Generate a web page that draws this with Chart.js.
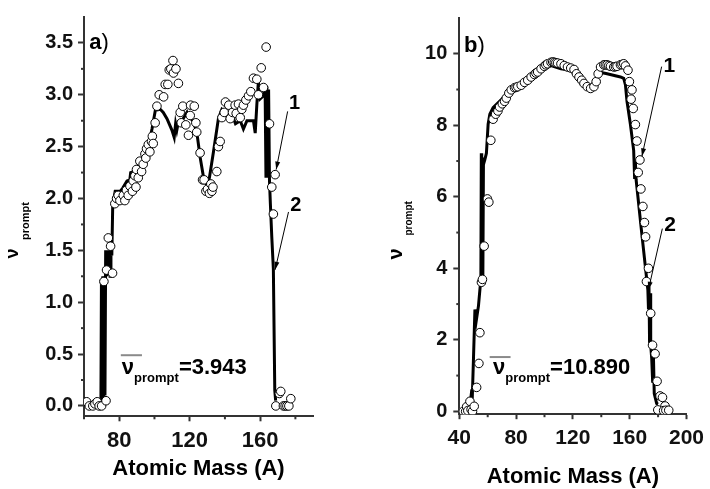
<!DOCTYPE html>
<html>
<head>
<meta charset="utf-8">
<script src="https://cdn.jsdelivr.net/npm/chart.js@4.4.1/dist/chart.umd.min.js"></script>
<style>
  html, body { margin: 0; padding: 0; background: #fff; }
  #wrap { position: relative; width: 710px; height: 489px; }
  .panel { position: absolute; top: 0; width: 355px; height: 489px; }
  #panelA { left: 0; }
  #panelB { left: 355px; }
</style>
</head>
<body>
<div id="wrap">
  <div class="panel" id="panelA"><canvas id="chartA" width="355" height="489"></canvas></div>
  <div class="panel" id="panelB"><canvas id="chartB" width="355" height="489"></canvas></div>
</div>
<script>
  const FONT = '"Liberation Sans", Arial, Helvetica, sans-serif';
  const AXIS = '#333';

  // --- Panel a: open circles + calculated curve ---
  const massA = [61.5, 63, 65, 66.2, 67.5, 68.6, 70, 72.5,
    71.3, 72.8, 73.8, 75.1, 76.2,
    77.5, 78.5, 79.4, 80.4, 82.3, 83.2, 84.1, 85.1, 86.1, 87.5,
    87.9, 88.9, 89.5, 89.8, 90.8, 91.7, 92.7, 93.6, 94.6, 95.1,
    95.5, 96.5, 97.4, 98.3, 98.8, 99.3, 100.4, 101.4, 102.7, 105.2,
    106.1, 107.6, 108.4, 109.3, 110.5, 110.8, 112.2, 113.6,
    114.6, 115.2, 116.1, 117.8, 119.3, 120.3, 120.5, 122.6, 123.5, 124,
    125.9, 127.3, 128.2, 129.2, 130.1, 131.2, 132, 132.6, 133.2, 135.4,
    136.3, 137.3, 138.3, 139.6, 140.3, 142.2, 143, 144.3, 145.8, 146.4,
    147.7, 148.7, 149.6, 150.5, 151.9, 153.4, 154.7, 156.2, 158.1, 159,
    160.6, 161.9, 163.4, 165.3, 166.6, 167.5, 168.5,
    168.9, 170.9, 171.7, 173.2, 174.2, 175.2, 176.3, 177.4];
  const nuA = [0.04, 0, 0, 0.02, 0.04, 0, 0, 0.05,
    1.2, 1.31, 1.62, 1.54, 1.28,
    1.95, 2.0, 2.03, 1.98, 2.03, 1.98, 2.08, 2.03, 2.12, 2.07,
    2.17, 2.22, 2.11, 2.28, 2.20, 2.36, 2.26, 2.33, 2.43, 2.39,
    2.48, 2.52, 2.45, 2.55, 2.60, 2.53, 2.73, 2.89, 3.0, 2.98,
    3.10, 3.10, 3.24, 3.25, 3.33, 3.21, 3.25, 3.11,
    2.83, 2.73, 2.89, 2.71, 2.61, 2.80, 2.90, 2.89, 2.73, 2.64,
    2.44, 2.18, 2.18, 2.07, 2.09, 2.05, 2.14, 2.07, 2.11, 2.26,
    2.50, 2.55, 2.78, 2.83, 2.93, 2.90, 2.77, 2.83, 2.90, 2.82,
    2.91, 2.78, 2.86, 2.90, 2.95, 2.99, 3.03, 3.16, 3.15, 3.0,
    3.26, 3.07, 3.46, 2.72, 2.11, 1.85, 2.23,
    0, 0.12, 0.14, 0, 0, 0, 0, 0.07];
  const massALine = [62, 66, 69.6, 69.9, 70.3, 70.7, 71.1, 71.5, 71.9, 72.3,
    72.8, 73.3, 73.8, 74.3, 74.8, 75.3, 75.8, 76.3, 77.7, 80.6,
    82, 84.4, 86, 86.5, 88.1, 90, 92, 94, 95.7, 97,
    98.6, 100.5, 103.3, 105, 107.1, 109.9, 111.2, 112, 112.7, 113.6,
    115.6, 118.4, 119.3, 120.7, 122.2, 124.1, 126, 127.9, 129.8, 131.2,
    133.5, 136.3, 138.3, 141.1, 143, 144.9, 146, 148.7, 150.5, 152.5,
    156.2, 157.2, 158.1, 159, 160, 161.9, 162.8, 163.3, 163.8, 164.3,
    164.8, 165.3, 165.8, 166.6, 167.5, 168.3, 168.8];
  const nuALine = [0, 0, 0.02, 1.22, 0.05, 1.25, 0.05, 1.25, 0.1, 1.5,
    1.25, 1.5, 1.3, 1.5, 1.25, 1.5, 1.45, 1.93, 2.07, 2.07,
    2.1, 2.17, 2.18, 2.25, 2.26, 2.3, 2.36, 2.42, 2.48, 2.55,
    2.67, 2.85, 2.86, 2.83, 2.77, 2.66, 2.59, 2.72, 2.66, 2.74,
    2.75, 2.83, 2.78, 2.77, 2.74, 2.63, 2.39, 2.20, 2.12, 2.20,
    2.45, 2.77, 2.86, 2.82, 2.75, 2.77, 2.72, 2.75, 2.67, 2.75,
    2.75, 2.63, 2.90, 3.13, 2.96, 2.99, 3.08, 2.2, 3.08, 2.2,
    3.05, 2.17, 1.95, 1.63, 1.32, 0.15, 0.05];
  const xTicksA = [80, 120, 160];
  const xMinorA = [60, 100, 140, 180];
  const yTicksA = [0, 0.5, 1, 1.5, 2, 2.5, 3, 3.5];
  const yMinorA = [0.25, 0.75, 1.25, 1.75, 2.25, 2.75, 3.25];

  // --- Panel b ---
  const massB = [42.8, 44.5, 45.2, 46.0, 47.5, 48.3, 49.3, 50.5,
    52.2, 53.8, 54.5, 55.6, 56.3, 57.5, 59.8, 60.8,
    62.2, 63.8, 65.6, 67.2, 68.4, 70.3, 71.9, 73.1, 74.9, 76.6,
    78.9, 80.0, 81.2, 83.6, 85.9, 88.2, 90.6, 92.9, 94.0, 95.2,
    97.6, 99.9, 101.0, 102.2, 104.6, 105.8, 106.9, 108.0, 109.2, 111.6,
    113.9, 116.2, 118.5, 120.8, 122.5, 124.3, 126.2, 127.8, 130.1, 132.5,
    134.8, 136.4, 137.8, 139.5, 141.8, 142.9, 144.1, 145.3, 146.5, 148.8,
    150.0, 151.1, 153.5, 154.6, 155.8, 157.0, 158.8,
    159.8, 161.6, 161.0, 162.5, 164.0, 165.1, 167.2, 166.0, 167.9, 169.3,
    170.4, 171.2, 173.2, 171.8, 174.8, 176.1, 177.9, 179.3, 181.4, 183.1,
    179.8, 184.9, 183.9, 185.5, 187.5];
  const nuB = [0, 0, 0.13, 0.02, 0.28, 0.05, 0, 0.14,
    0.67, 1.34, 2.20, 3.61, 3.69, 4.62, 5.94, 5.85,
    7.58, 8.17, 8.31, 8.40, 8.51, 8.60, 8.67, 8.76, 8.90, 8.99,
    9.05, 9.06, 9.08, 9.12, 9.20, 9.26, 9.35, 9.42, 9.46, 9.49,
    9.58, 9.65, 9.69, 9.72, 9.76, 9.77, 9.76, 9.75, 9.74, 9.72,
    9.67, 9.63, 9.60, 9.56, 9.44, 9.35, 9.26, 9.17, 9.08, 9.03,
    9.08, 9.22, 9.44, 9.63, 9.69, 9.69, 9.69, 9.67, 9.65, 9.63,
    9.64, 9.65, 9.69, 9.70, 9.72, 9.66, 9.54,
    9.22, 8.99, 8.73, 8.47, 8.02, 7.56, 7.03, 6.68, 6.22, 5.73,
    5.28, 4.88, 4.0, 3.63, 2.74, 1.85, 1.61, 0.84, 0.43, 0.39,
    0.04, 0.15, 0.02, 0.03, 0.03];
  const massBLine = [43, 46, 47.5, 48.5, 49.2, 50, 51, 52, 53.5, 54.5,
    55.2, 55.5, 55.8, 56.2, 56.6, 57, 58, 59.1, 60.3, 61.5,
    63.8, 67.3, 71.9, 76.6, 81.2, 88.2, 97.6, 104.6, 111.6, 118.5,
    124.3, 130.1, 134.8, 138.3, 144.1, 153.5, 155.8, 157, 158.1, 160.5,
    162.8, 163.5, 164, 164.5, 168.6, 172.8, 173.2, 173.6, 174, 174.4,
    174.8, 175.5, 176.2, 176.7, 177.3, 177.9, 179, 180];
  const nuBLine = [0, 0.02, 0.15, 0.5, 0.45, 1.5, 2.85, 2.55, 2.95, 3.4,
    3.7, 7.22, 3.7, 7.1, 3.8, 6.9, 7.04, 7.22, 8.03, 8.31,
    8.49, 8.63, 8.81, 9.03, 9.08, 9.26, 9.54, 9.67, 9.58, 9.54,
    9.31, 9.08, 9.17, 9.49, 9.44, 9.35, 9.31, 9.13, 8.67, 8.03,
    7.3, 6.5, 7.0, 6.49, 4.94, 3.4, 2.9, 3.5, 1.9, 3.3,
    1.85, 1.49, 0.8, 1.6, 0.5, 0.4, 0.22, 0.2];
  const xTicksB = [40, 80, 120, 160, 200];
  const xMinorB = [60, 100, 140, 180];
  const yTicksB = [0, 2, 4, 6, 8, 10];
  const yMinorB = [1, 3, 5, 7, 9];

  const toPts = (xs, ys) => xs.map((v, i) => ({ x: v, y: ys[i] }));

  function arrow(ctx, x1, y1, x2, y2) {
    ctx.lineWidth = 1;
    ctx.beginPath(); ctx.moveTo(x1, y1); ctx.lineTo(x2, y2); ctx.stroke();
    const a = Math.atan2(y2 - y1, x2 - x1), L = 8, W = 2.5;
    ctx.beginPath();
    ctx.moveTo(x2, y2);
    ctx.lineTo(x2 - L * Math.cos(a) + W * Math.sin(a), y2 - L * Math.sin(a) - W * Math.cos(a));
    ctx.lineTo(x2 - L * Math.cos(a) - W * Math.sin(a), y2 - L * Math.sin(a) + W * Math.cos(a));
    ctx.closePath(); ctx.fill();
  }

  // minor ticks, titles and the text/arrow annotations
  const decor = {
    id: 'decor',
    afterDraw(chart, args, o) {
      const { ctx, chartArea: area, scales: { x, y } } = chart;
      const px = v => x.getPixelForValue(v), py = v => y.getPixelForValue(v);
      ctx.save();
      ctx.strokeStyle = AXIS; ctx.lineWidth = 2;
      o.xMinor.forEach(v => {
        ctx.beginPath(); ctx.moveTo(px(v), area.bottom); ctx.lineTo(px(v), area.bottom + 3); ctx.stroke();
      });
      o.yMinor.forEach(v => {
        ctx.beginPath(); ctx.moveTo(area.left, py(v)); ctx.lineTo(area.left - 3, py(v)); ctx.stroke();
      });

      ctx.fillStyle = '#000'; ctx.strokeStyle = '#000';
      ctx.textBaseline = 'alphabetic';

      // panel letter
      ctx.textAlign = 'left';
      ctx.font = `bold 22px ${FONT}`;
      const lx = px(o.letterAt[0]), ly = py(o.letterAt[1]);
      ctx.fillText(o.letter, lx, ly);
      const lw = ctx.measureText(o.letter).width;
      ctx.font = `22px ${FONT}`;
      ctx.fillText(')', lx + lw, ly);

      // numbered curves with arrows
      ctx.textAlign = 'center';
      ctx.font = `bold ${o.markSize}px ${FONT}`;
      o.marks.forEach(m => {
        ctx.fillText(m.text, px(m.at[0]), py(m.at[1]));
        arrow(ctx, px(m.from[0]), py(m.from[1]), px(m.to[0]), py(m.to[1]));
      });

      // mean value with overline
      ctx.textAlign = 'left';
      let mx = px(o.mean.at[0]);
      const my = py(o.mean.at[1]);
      ctx.font = `bold 22px ${FONT}`;
      ctx.fillText('ν', mx, my);
      mx += ctx.measureText('ν').width;
      ctx.font = `bold 13px ${FONT}`;
      ctx.fillText('prompt', mx, my + 8);
      mx += ctx.measureText('prompt').width;
      ctx.font = `bold 22px ${FONT}`;
      ctx.fillText(o.mean.text, mx, my);
      ctx.strokeStyle = '#8a8a8a'; ctx.lineWidth = 2;
      ctx.beginPath();
      ctx.moveTo(px(o.mean.bar[0]), py(o.mean.bar[2]));
      ctx.lineTo(px(o.mean.bar[1]), py(o.mean.bar[2]));
      ctx.stroke();

      // y title, rotated
      ctx.save();
      ctx.translate(area.left + o.yTitle.dx, o.yTitle.y);
      ctx.rotate(-Math.PI / 2);
      ctx.font = `bold ${o.yTitle.nuSize}px ${FONT}`;
      ctx.fillText('ν', 0, 0);
      ctx.font = `bold ${o.yTitle.subSize}px ${FONT}`;
      ctx.fillText('prompt', o.yTitle.subDx, o.yTitle.subDy);
      ctx.restore();

      // x title
      ctx.textAlign = 'center';
      ctx.font = `bold 22px ${FONT}`;
      ctx.fillText('Atomic Mass (A)', (area.left + area.right) / 2, o.xTitleY);
      ctx.restore();
    }
  };

  function makeChart(id, c) {
    return new Chart(document.getElementById(id), {
      type: 'scatter',
      data: {
        datasets: [
          {
            data: toPts(c.mass, c.nu),
            pointStyle: 'circle', pointRadius: 4.3,
            pointBackgroundColor: '#fff', pointBorderColor: '#000', pointBorderWidth: 1
          },
          {
            data: toPts(c.massLine, c.nuLine),
            showLine: true, pointRadius: 0,
            borderColor: '#000', borderWidth: 3, tension: 0
          }
        ]
      },
      options: {
        responsive: false,
        animation: false,
        layout: { padding: { left: 0, top: c.area.top, right: 355 - c.area.right, bottom: 0 } },
        plugins: {
          legend: { display: false },
          tooltip: { enabled: false },
          decor: c.decor
        },
        scales: {
          x: {
            type: 'linear', min: c.xMin, max: c.xMax,
            afterBuildTicks: s => { s.ticks = c.xTicks.map(v => ({ value: v })); },
            afterFit: s => { s.height = 489 - c.area.bottom; },
            border: { display: true, color: AXIS, width: 2 },
            grid: { drawOnChartArea: false, drawTicks: true, tickLength: 5, tickWidth: 2, tickColor: AXIS },
            ticks: { color: '#111', padding: c.xPad, maxRotation: 0, font: { family: FONT, size: c.xFont, weight: 'bold' } }
          },
          y: {
            type: 'linear', min: c.yMin, max: c.yMax,
            afterBuildTicks: s => { s.ticks = c.yTicks.map(v => ({ value: v })); },
            afterFit: s => { s.width = c.area.left; },
            border: { display: true, color: AXIS, width: 2 },
            grid: { drawOnChartArea: false, drawTicks: true, tickLength: 6, tickWidth: 2, tickColor: AXIS },
            ticks: { color: '#111', padding: c.yPad, callback: c.yFmt, font: { family: FONT, size: c.yFont, weight: 'bold' } }
          }
        }
      },
      plugins: [decor]
    });
  }

  makeChart('chartA', {
    mass: massA, nu: nuA, massLine: massALine, nuLine: nuALine,
    xMin: 60, xMax: 190, yMin: -0.1, yMax: 3.75,
    xTicks: xTicksA, yTicks: yTicksA, yFmt: v => v.toFixed(1),
    area: { left: 84, right: 313, top: 9.6, bottom: 416.3 },
    xFont: 22, yFont: 20, xPad: 6, yPad: 5,
    decor: {
      xMinor: xMinorA, yMinor: yMinorA,
      letter: 'a', letterAt: [63.0, 3.446],
      markSize: 20,
      marks: [
        { text: '1', at: [179.5, 2.863], from: [175.6, 2.84], to: [169.1, 2.279] },
        { text: '2', at: [180.3, 1.884], from: [176.1, 1.87], to: [168.5, 1.313] }
      ],
      mean: { text: '=3.943', at: [81.5, 0.307], bar: [80.9, 92.9, 0.489] },
      yTitle: { dx: -65.7, y: 258.5, nuSize: 18, subSize: 11, subDx: 18.5, subDy: 10.7 },
      xTitleY: 475
    }
  });

  makeChart('chartB', {
    mass: massB, nu: nuB, massLine: massBLine, nuLine: nuBLine,
    xMin: 40, xMax: 200, yMin: -0.08, yMax: 11,
    xTicks: xTicksB, yTicks: yTicksB, yFmt: v => String(v),
    area: { left: 104.3, right: 333.3, top: 8.4, bottom: 414.2 },
    xFont: 21, yFont: 20, xPad: 6, yPad: 6,
    decor: {
      xMinor: xMinorB, yMinor: yMinorB,
      letter: 'b', letterAt: [43.3, 10.05],
      markSize: 21,
      marks: [
        { text: '1', at: [187.9, 9.50], from: [182.5, 9.64], to: [168.6, 7.13] },
        { text: '2', at: [188.4, 5.04], from: [183.0, 5.11], to: [173.2, 3.40] }
      ],
      mean: { text: '=10.890', at: [63.8, 1.037], bar: [61.4, 76.1, 1.518] },
      yTitle: { dx: -57.6, y: 259.5, nuSize: 20, subSize: 10, subDx: 24, subDy: 10 },
      xTitleY: 483
    }
  });
</script>
</body>
</html>
